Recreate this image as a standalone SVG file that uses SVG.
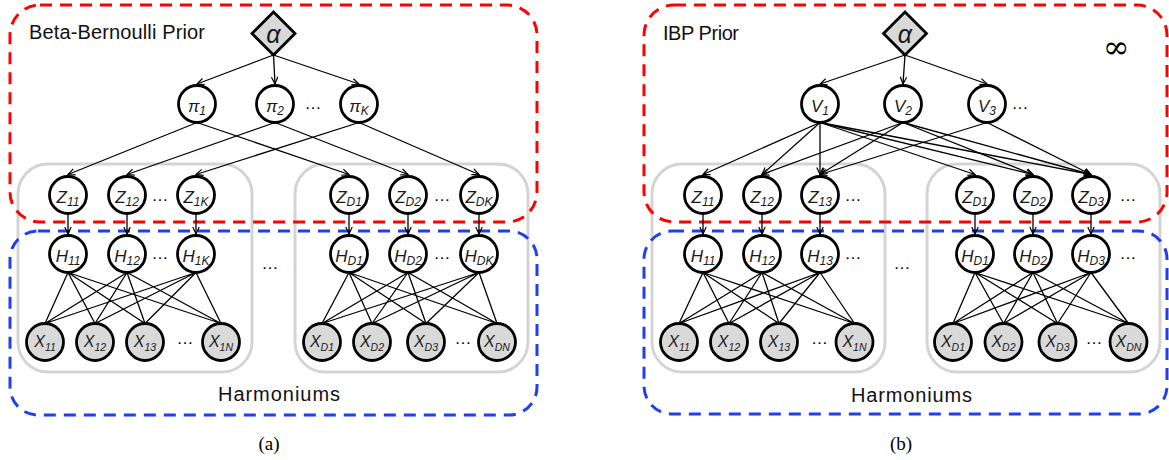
<svg xmlns="http://www.w3.org/2000/svg" width="1169" height="460" viewBox="0 0 1169 460">
<defs>
<marker id="arr" markerWidth="10" markerHeight="10" refX="0" refY="0" viewBox="-9 -5 10 10" orient="auto" markerUnits="userSpaceOnUse"><path d="M-7,-3.2 L0,0 L-7,3.2" fill="none" stroke="#000" stroke-width="1.2"/></marker>
</defs>
<style>
.plate{fill:none;stroke:#d4d4d4;stroke-width:3}
.red{fill:none;stroke:#ff0000;stroke-width:3;stroke-dasharray:12 8}
.blue{fill:none;stroke:#1f3ff0;stroke-width:3;stroke-dasharray:12 8}
.e{stroke:#000;stroke-width:1.3;fill:none}
.a{marker-end:url(#arr)}
.n circle{fill:#fff;stroke:#000;stroke-width:2.8}
.obs circle{fill:#d9d9d9}
.dia{fill:#d9d9d9;stroke:#000;stroke-width:2.8;stroke-linejoin:miter}
.t{font-family:"Liberation Sans",Arial,sans-serif;font-style:italic;font-size:17px;text-anchor:middle;fill:#1a1a1a}
.s{font-size:12px}
.tx{font-size:16px}
.sx{font-size:10.5px}
.al{font-size:25px}
.dots{font-family:"Liberation Sans",Arial,sans-serif;font-size:17px;text-anchor:middle;fill:#000}
.lab{font-family:"Liberation Sans",Arial,sans-serif;font-size:20px;fill:#111}
.cap{font-family:"Liberation Serif","Times New Roman",serif;font-size:19px;text-anchor:middle;fill:#000}
.inf{font-family:"DejaVu Serif","Liberation Serif",serif;font-size:32px;text-anchor:middle;fill:#000}
</style>
<rect width="1169" height="460" fill="#fff"/>

<g id="plates">
<rect class="plate" x="18" y="164" width="234" height="208" rx="30"/>
<rect class="plate" x="295" y="164" width="233" height="208" rx="30"/>
<rect class="plate" x="652" y="164" width="233" height="208" rx="30"/>
<rect class="plate" x="927" y="164" width="233" height="208" rx="30"/>
</g>

<g id="regions">
<rect class="red" x="10" y="5" width="527" height="217" rx="30"/>
<rect class="blue" x="10" y="231" width="527" height="184" rx="28"/>
<rect class="red" x="644" y="5" width="523" height="217" rx="30"/>
<rect class="blue" x="644" y="231" width="523" height="183" rx="28"/>
</g>

<g id="labels">
<text class="lab" x="29" y="39" textLength="176">Beta-Bernoulli Prior</text>
<text class="lab" x="663" y="40" textLength="76">IBP Prior</text>
<text class="lab" x="218" y="401" textLength="122">Harmoniums</text>
<text class="lab" x="851" y="401.5" textLength="121">Harmoniums</text>
<text class="inf" x="1116" y="58">∞</text>
<text class="cap" x="269" y="450">(a)</text>
<text class="cap" x="901" y="450">(b)</text>
</g>

<g id="connectors">
<path class="e a" d="M273.5,55 L197,84"/>
<path class="e a" d="M273.5,55 L275,84"/>
<path class="e a" d="M273.5,55 L359,84"/>
<path class="e a" d="M197,122.5 L68,174.5"/>
<path class="e a" d="M197,122.5 L349,174.5"/>
<path class="e a" d="M275,122.5 L127,174.5"/>
<path class="e a" d="M275,122.5 L408,174.5"/>
<path class="e a" d="M359,122.5 L196,174.5"/>
<path class="e a" d="M359,122.5 L479,174.5"/>
<path class="e a" d="M68,213.5 L68,234"/>
<path class="e a" d="M127,213.5 L127,234"/>
<path class="e a" d="M196,213.5 L196,234"/>
<path class="e a" d="M349,213.5 L349,234"/>
<path class="e a" d="M408,213.5 L408,234"/>
<path class="e a" d="M479,213.5 L479,234"/>
<path class="e" d="M68,272.5 L45,323.5 M68,272.5 L95,323.5 M68,272.5 L145,323.5 M68,272.5 L221,323.5 M127,272.5 L45,323.5 M127,272.5 L95,323.5 M127,272.5 L145,323.5 M127,272.5 L221,323.5 M196,272.5 L45,323.5 M196,272.5 L95,323.5 M196,272.5 L145,323.5 M196,272.5 L221,323.5"/>
<path class="e" d="M349,272.5 L322,323.5 M349,272.5 L372,323.5 M349,272.5 L426,323.5 M349,272.5 L497,323.5 M408,272.5 L322,323.5 M408,272.5 L372,323.5 M408,272.5 L426,323.5 M408,272.5 L497,323.5 M479,272.5 L322,323.5 M479,272.5 L372,323.5 M479,272.5 L426,323.5 M479,272.5 L497,323.5"/>
<path class="e a" d="M905,55 L820,84"/>
<path class="e a" d="M905,55 L903,84"/>
<path class="e a" d="M905,55 L987,84"/>
<path class="e a" d="M820,122.5 L703,174.5"/>
<path class="e a" d="M820,122.5 L762,174.5"/>
<path class="e a" d="M820,122.5 L820,174.5"/>
<path class="e a" d="M820,122.5 L975,174.5"/>
<path class="e a" d="M820,122.5 L1033,174.5"/>
<path class="e a" d="M820,122.5 L1091,174.5"/>
<path class="e a" d="M903,122.5 L762,174.5"/>
<path class="e a" d="M903,122.5 L820,174.5"/>
<path class="e a" d="M903,122.5 L1033,174.5"/>
<path class="e a" d="M903,122.5 L1091,174.5"/>
<path class="e a" d="M987,122.5 L820,174.5"/>
<path class="e a" d="M987,122.5 L1091,174.5"/>
<path class="e a" d="M703,213.5 L703,234"/>
<path class="e a" d="M762,213.5 L762,234"/>
<path class="e a" d="M820,213.5 L820,234"/>
<path class="e a" d="M975,213.5 L975,234"/>
<path class="e a" d="M1033,213.5 L1033,234"/>
<path class="e a" d="M1091,213.5 L1091,234"/>
<path class="e" d="M703,272.5 L679,323.5 M703,272.5 L729,323.5 M703,272.5 L779,323.5 M703,272.5 L854.5,323.5 M762,272.5 L679,323.5 M762,272.5 L729,323.5 M762,272.5 L779,323.5 M762,272.5 L854.5,323.5 M820,272.5 L679,323.5 M820,272.5 L729,323.5 M820,272.5 L779,323.5 M820,272.5 L854.5,323.5"/>
<path class="e" d="M975,272.5 L953,323.5 M975,272.5 L1003.5,323.5 M975,272.5 L1057.5,323.5 M975,272.5 L1128.5,323.5 M1033,272.5 L953,323.5 M1033,272.5 L1003.5,323.5 M1033,272.5 L1057.5,323.5 M1033,272.5 L1128.5,323.5 M1091,272.5 L953,323.5 M1091,272.5 L1003.5,323.5 M1091,272.5 L1057.5,323.5 M1091,272.5 L1128.5,323.5"/>
</g>

<g id="a-alpha"><polygon class="dia" points="273.5,12 295,33.5 273.5,55 252,33.5"/><text class="t al" x="273.5" y="43">α</text></g>
<g id="a-pi1" class="n"><circle cx="197" cy="104" r="18.5"/><text class="t" x="197" y="111.5">π<tspan class="s" dy="3.5">1</tspan></text></g>
<g id="a-pi2" class="n"><circle cx="275" cy="104" r="18.5"/><text class="t" x="275" y="111.5">π<tspan class="s" dy="3.5">2</tspan></text></g>
<g id="a-piK" class="n"><circle cx="359" cy="104" r="18.5"/><text class="t" x="359" y="111.5">π<tspan class="s" dy="3.5">K</tspan></text></g>

<g id="a-Z11" class="n"><circle cx="68" cy="195" r="18.5"/><text class="t" x="68" y="202.5">Z<tspan class="s" dy="3.5">11</tspan></text></g>
<g id="a-Z12" class="n"><circle cx="127" cy="195" r="18.5"/><text class="t" x="127" y="202.5">Z<tspan class="s" dy="3.5">12</tspan></text></g>
<g id="a-Z1K" class="n"><circle cx="196" cy="195" r="18.5"/><text class="t" x="196" y="202.5">Z<tspan class="s" dy="3.5">1K</tspan></text></g>
<g id="a-ZD1" class="n"><circle cx="349" cy="195" r="18.5"/><text class="t" x="349" y="202.5">Z<tspan class="s" dy="3.5">D1</tspan></text></g>
<g id="a-ZD2" class="n"><circle cx="408" cy="195" r="18.5"/><text class="t" x="408" y="202.5">Z<tspan class="s" dy="3.5">D2</tspan></text></g>
<g id="a-ZDK" class="n"><circle cx="479" cy="195" r="18.5"/><text class="t" x="479" y="202.5">Z<tspan class="s" dy="3.5">DK</tspan></text></g>

<g id="a-H11" class="n"><circle cx="68" cy="254" r="18.5"/><text class="t" x="68" y="261.5">H<tspan class="s" dy="3.5">11</tspan></text></g>
<g id="a-H12" class="n"><circle cx="127" cy="254" r="18.5"/><text class="t" x="127" y="261.5">H<tspan class="s" dy="3.5">12</tspan></text></g>
<g id="a-H1K" class="n"><circle cx="196" cy="254" r="18.5"/><text class="t" x="196" y="261.5">H<tspan class="s" dy="3.5">1K</tspan></text></g>
<g id="a-HD1" class="n"><circle cx="349" cy="254" r="18.5"/><text class="t" x="349" y="261.5">H<tspan class="s" dy="3.5">D1</tspan></text></g>
<g id="a-HD2" class="n"><circle cx="408" cy="254" r="18.5"/><text class="t" x="408" y="261.5">H<tspan class="s" dy="3.5">D2</tspan></text></g>
<g id="a-HDK" class="n"><circle cx="479" cy="254" r="18.5"/><text class="t" x="479" y="261.5">H<tspan class="s" dy="3.5">DK</tspan></text></g>

<g id="a-X11" class="n obs"><circle cx="45" cy="342" r="18.5"/><text class="t tx" x="45" y="347">X<tspan class="sx" dy="4">11</tspan></text></g>
<g id="a-X12" class="n obs"><circle cx="95" cy="342" r="18.5"/><text class="t tx" x="95" y="347">X<tspan class="sx" dy="4">12</tspan></text></g>
<g id="a-X13" class="n obs"><circle cx="145" cy="342" r="18.5"/><text class="t tx" x="145" y="347">X<tspan class="sx" dy="4">13</tspan></text></g>
<g id="a-X1N" class="n obs"><circle cx="221" cy="342" r="18.5"/><text class="t tx" x="221" y="347">X<tspan class="sx" dy="4">1N</tspan></text></g>
<g id="a-XD1" class="n obs"><circle cx="322" cy="342" r="18.5"/><text class="t tx" x="322" y="347">X<tspan class="sx" dy="4">D1</tspan></text></g>
<g id="a-XD2" class="n obs"><circle cx="372" cy="342" r="18.5"/><text class="t tx" x="372" y="347">X<tspan class="sx" dy="4">D2</tspan></text></g>
<g id="a-XD3" class="n obs"><circle cx="426" cy="342" r="18.5"/><text class="t tx" x="426" y="347">X<tspan class="sx" dy="4">D3</tspan></text></g>
<g id="a-XDN" class="n obs"><circle cx="497" cy="342" r="18.5"/><text class="t tx" x="497" y="347">X<tspan class="sx" dy="4">DN</tspan></text></g>

<g id="b-alpha"><polygon class="dia" points="905,12 926.5,33.5 905,55 883.5,33.5"/><text class="t al" x="905" y="43">α</text></g>
<g id="b-V1" class="n"><circle cx="820" cy="104" r="18.5"/><text class="t" x="820" y="111.5">V<tspan class="s" dy="3.5">1</tspan></text></g>
<g id="b-V2" class="n"><circle cx="903" cy="104" r="18.5"/><text class="t" x="903" y="111.5">V<tspan class="s" dy="3.5">2</tspan></text></g>
<g id="b-V3" class="n"><circle cx="987" cy="104" r="18.5"/><text class="t" x="987" y="111.5">V<tspan class="s" dy="3.5">3</tspan></text></g>

<g id="b-Z11" class="n"><circle cx="703" cy="195" r="18.5"/><text class="t" x="703" y="202.5">Z<tspan class="s" dy="3.5">11</tspan></text></g>
<g id="b-Z12" class="n"><circle cx="762" cy="195" r="18.5"/><text class="t" x="762" y="202.5">Z<tspan class="s" dy="3.5">12</tspan></text></g>
<g id="b-Z13" class="n"><circle cx="820" cy="195" r="18.5"/><text class="t" x="820" y="202.5">Z<tspan class="s" dy="3.5">13</tspan></text></g>
<g id="b-ZD1" class="n"><circle cx="975" cy="195" r="18.5"/><text class="t" x="975" y="202.5">Z<tspan class="s" dy="3.5">D1</tspan></text></g>
<g id="b-ZD2" class="n"><circle cx="1033" cy="195" r="18.5"/><text class="t" x="1033" y="202.5">Z<tspan class="s" dy="3.5">D2</tspan></text></g>
<g id="b-ZD3" class="n"><circle cx="1091" cy="195" r="18.5"/><text class="t" x="1091" y="202.5">Z<tspan class="s" dy="3.5">D3</tspan></text></g>

<g id="b-H11" class="n"><circle cx="703" cy="254" r="18.5"/><text class="t" x="703" y="261.5">H<tspan class="s" dy="3.5">11</tspan></text></g>
<g id="b-H12" class="n"><circle cx="762" cy="254" r="18.5"/><text class="t" x="762" y="261.5">H<tspan class="s" dy="3.5">12</tspan></text></g>
<g id="b-H13" class="n"><circle cx="820" cy="254" r="18.5"/><text class="t" x="820" y="261.5">H<tspan class="s" dy="3.5">13</tspan></text></g>
<g id="b-HD1" class="n"><circle cx="975" cy="254" r="18.5"/><text class="t" x="975" y="261.5">H<tspan class="s" dy="3.5">D1</tspan></text></g>
<g id="b-HD2" class="n"><circle cx="1033" cy="254" r="18.5"/><text class="t" x="1033" y="261.5">H<tspan class="s" dy="3.5">D2</tspan></text></g>
<g id="b-HD3" class="n"><circle cx="1091" cy="254" r="18.5"/><text class="t" x="1091" y="261.5">H<tspan class="s" dy="3.5">D3</tspan></text></g>

<g id="b-X11" class="n obs"><circle cx="679" cy="342" r="18.5"/><text class="t tx" x="679" y="347">X<tspan class="sx" dy="4">11</tspan></text></g>
<g id="b-X12" class="n obs"><circle cx="729" cy="342" r="18.5"/><text class="t tx" x="729" y="347">X<tspan class="sx" dy="4">12</tspan></text></g>
<g id="b-X13" class="n obs"><circle cx="779" cy="342" r="18.5"/><text class="t tx" x="779" y="347">X<tspan class="sx" dy="4">13</tspan></text></g>
<g id="b-X1N" class="n obs"><circle cx="854.5" cy="342" r="18.5"/><text class="t tx" x="854.5" y="347">X<tspan class="sx" dy="4">1N</tspan></text></g>
<g id="b-XD1" class="n obs"><circle cx="953" cy="342" r="18.5"/><text class="t tx" x="953" y="347">X<tspan class="sx" dy="4">D1</tspan></text></g>
<g id="b-XD2" class="n obs"><circle cx="1003.5" cy="342" r="18.5"/><text class="t tx" x="1003.5" y="347">X<tspan class="sx" dy="4">D2</tspan></text></g>
<g id="b-XD3" class="n obs"><circle cx="1057.5" cy="342" r="18.5"/><text class="t tx" x="1057.5" y="347">X<tspan class="sx" dy="4">D3</tspan></text></g>
<g id="b-XDN" class="n obs"><circle cx="1128.5" cy="342" r="18.5"/><text class="t tx" x="1128.5" y="347">X<tspan class="sx" dy="4">DN</tspan></text></g>

<g id="ellipses">
<text class="dots" x="313" y="109">…</text>
<text class="dots" x="160" y="201">…</text>
<text class="dots" x="442" y="201">…</text>
<text class="dots" x="160" y="259">…</text>
<text class="dots" x="442" y="259">…</text>
<text class="dots" x="270" y="269">…</text>
<text class="dots" x="185" y="344">…</text>
<text class="dots" x="463" y="344">…</text>
<text class="dots" x="1020" y="109">…</text>
<text class="dots" x="853" y="201">…</text>
<text class="dots" x="1128" y="201">…</text>
<text class="dots" x="853" y="259">…</text>
<text class="dots" x="1128" y="259">…</text>
<text class="dots" x="902" y="269">…</text>
<text class="dots" x="819.5" y="344">…</text>
<text class="dots" x="1094" y="344">…</text>
</g>
</svg>
